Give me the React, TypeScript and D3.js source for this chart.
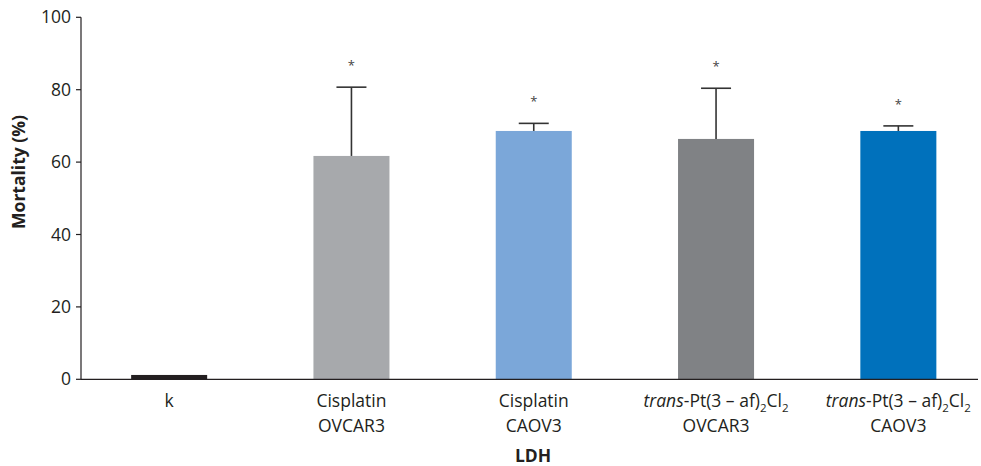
import React from "react";
import * as d3 from "d3";

const categories = ["k", "cisOV", "cisCA", "transOV", "transCA"];
const line2 = ["", "OVCAR3", "CAOV3", "OVCAR3", "CAOV3"];
const means = [1.2, 61.7, 68.6, 66.4, 68.6];
const errTop = [null, 80.7, 70.7, 80.4, 70.0];
const starred = [false, true, true, true, true];
const colors = ["#231f20", "#a7a9ac", "#7ba7d9", "#808285", "#0071bc"];
const yTicks = [0, 20, 40, 60, 80, 100];

const W = 981;
const H = 466;
const FONT = "'Open Sans', 'Noto Sans', sans-serif";
const FS = 17.5;

function TransLabel({ x, y }: { x: number; y: number }) {
  return (
    <text x={x} y={y} textAnchor="middle" fontSize={FS} fill="#231f20" fontFamily={FONT}>
      <tspan fontStyle="italic">trans</tspan>
      <tspan>-Pt(3 – af)</tspan>
      <tspan fontSize={11.5} dy={5}>2</tspan>
      <tspan dy={-5}>Cl</tspan>
      <tspan fontSize={11.5} dy={5}>2</tspan>
    </text>
  );
}

export default function App() {
  const x = d3
    .scaleBand<string>()
    .domain(categories)
    .range([78, 989.5])
    .paddingInner(0.583)
    .paddingOuter(0.2915);
  const y = d3.scaleLinear().domain([0, 100]).range([379.3, 17.3]);
  const axisLeft = 81;

  return (
    <svg
      width={W}
      height={H}
      style={{ position: "absolute", left: 0, top: 0, background: "#fff" }}
    >
      {/* bars */}
      {categories.map((c, i) => (
        <rect
          key={c}
          x={x(c)}
          y={y(means[i])}
          width={x.bandwidth()}
          height={y(0) - y(means[i])}
          fill={colors[i]}
        />
      ))}

      {/* error bars + asterisks */}
      {categories.map((c, i) => {
        const e = errTop[i];
        if (e == null) return null;
        const cx = (x(c) as number) + x.bandwidth() / 2;
        return (
          <g key={"e" + c} stroke="#333" strokeWidth={1.6}>
            <line x1={cx} x2={cx} y1={y(means[i])} y2={y(e)} />
            <line x1={cx - 15} x2={cx + 15} y1={y(e)} y2={y(e)} />
            {starred[i] && (
              <text
                x={cx}
                y={y(e) - 17}
                textAnchor="middle"
                fontSize={13}
                fill="#444"
                stroke="none"
                fontFamily={FONT}
              >
                *
              </text>
            )}
          </g>
        );
      })}

      {/* axes */}
      <line x1={axisLeft} x2={axisLeft} y1={y(100)} y2={y(0)} stroke="#231f20" strokeWidth={1.2} />
      <line x1={axisLeft} x2={978} y1={y(0)} y2={y(0)} stroke="#231f20" strokeWidth={1.2} />
      {yTicks.map((t) => (
        <g key={t}>
          <line x1={axisLeft - 5} x2={axisLeft} y1={y(t)} y2={y(t)} stroke="#231f20" strokeWidth={1.2} />
          <text
            x={axisLeft - 10}
            y={y(t)}
            dy="0.35em"
            textAnchor="end"
            fontSize={FS}
            fill="#231f20"
            fontFamily={FONT}
          >
            {t}
          </text>
        </g>
      ))}

      {/* category labels */}
      {categories.map((c, i) => {
        const cx = (x(c) as number) + x.bandwidth() / 2;
        if (i === 0)
          return (
            <text key={"l" + c} x={cx} y={407} textAnchor="middle" fontSize={FS} fill="#231f20" fontFamily={FONT}>
              k
            </text>
          );
        return (
          <g key={"l" + c}>
            {c.startsWith("trans") ? (
              <TransLabel x={cx} y={407} />
            ) : (
              <text x={cx} y={407} textAnchor="middle" fontSize={FS} fill="#231f20" fontFamily={FONT}>
                Cisplatin
              </text>
            )}
            <text x={cx} y={431.5} textAnchor="middle" fontSize={FS} fill="#231f20" fontFamily={FONT}>
              {line2[i]}
            </text>
          </g>
        );
      })}

      {/* axis titles */}
      <text x={533} y={461.5} textAnchor="middle" fontSize={FS} fontWeight="bold" fill="#231f20" fontFamily={FONT}>
        LDH
      </text>
      <text
        transform="translate(25,172) rotate(-90)"
        textAnchor="middle"
        fontSize={FS}
        fontWeight="bold"
        fill="#231f20"
        fontFamily={FONT}
      >
        Mortality (%)
      </text>
    </svg>
  );
}
